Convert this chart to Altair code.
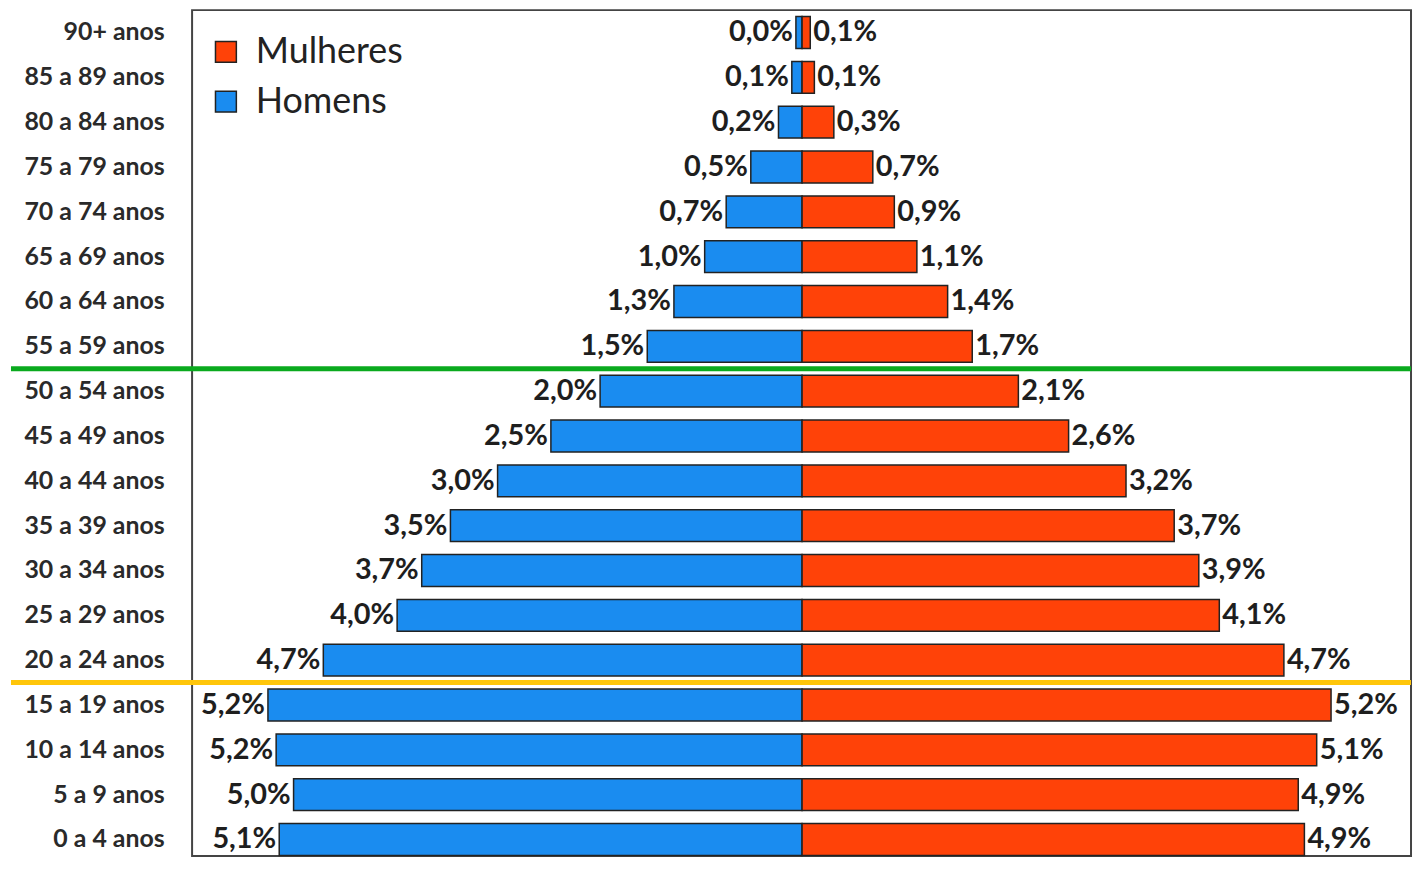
import altair as alt
import pandas as pd

ages = ["90+ anos", "85 a 89 anos", "80 a 84 anos", "75 a 79 anos", "70 a 74 anos",
        "65 a 69 anos", "60 a 64 anos", "55 a 59 anos", "50 a 54 anos", "45 a 49 anos",
        "40 a 44 anos", "35 a 39 anos", "30 a 34 anos", "25 a 29 anos", "20 a 24 anos",
        "15 a 19 anos", "10 a 14 anos", "5 a 9 anos", "0 a 4 anos"]

homens = [0.06, 0.10, 0.23, 0.50, 0.74, 0.95, 1.25, 1.51, 1.97, 2.45, 2.97, 3.43,
          3.71, 3.95, 4.67, 5.21, 5.13, 4.96, 5.10]
mulheres = [0.08, 0.12, 0.31, 0.69, 0.90, 1.12, 1.42, 1.66, 2.11, 2.60, 3.16, 3.63,
            3.87, 4.07, 4.70, 5.16, 5.02, 4.84, 4.90]

homens_lbl = ["0,0%", "0,1%", "0,2%", "0,5%", "0,7%", "1,0%", "1,3%", "1,5%", "2,0%",
              "2,5%", "3,0%", "3,5%", "3,7%", "4,0%", "4,7%", "5,2%", "5,2%", "5,0%", "5,1%"]
mulheres_lbl = ["0,1%", "0,1%", "0,3%", "0,7%", "0,9%", "1,1%", "1,4%", "1,7%", "2,1%",
                "2,6%", "3,2%", "3,7%", "3,9%", "4,1%", "4,7%", "5,2%", "5,1%", "4,9%", "4,9%"]

series = ["Mulheres", "Homens"]
series_colors = ["#FF4208", "#1A8CF0"]

rule_ages = ["50 a 54 anos", "15 a 19 anos"]
rule_colors = ["#0AAA1E", "#FFC60A"]

rows = []
for a, h, m, hl, ml in zip(ages, homens, mulheres, homens_lbl, mulheres_lbl):
    rows.append({"age": a, "sexo": "Homens", "v": -h, "lbl": hl})
    rows.append({"age": a, "sexo": "Mulheres", "v": m, "lbl": ml})
df = pd.DataFrame(rows)
rules = pd.DataFrame({"age": rule_ages, "c": rule_colors})

W, H = 1225, 850
FONT = "Lato"

y_enc = alt.Y("age:N", sort=ages, title=None,
              scale=alt.Scale(paddingInner=0, paddingOuter=0, range=[0, 856]),
              axis=alt.Axis(ticks=False, domain=False, labelPadding=28,
                            labelFontSize=25, labelFont=FONT, labelFontWeight="bold",
                            labelColor="#2a2a2a", minExtent=182, maxExtent=182))
x_scale = alt.Scale(domain=[-5.95, 5.94], nice=False, zero=False)

bars = alt.Chart(df).mark_bar(
    height=alt.RelativeBandSize(0.71), stroke="#222222", strokeWidth=1.5
).encode(
    y=y_enc,
    x=alt.X("v:Q", scale=x_scale, axis=None, stack=None),
    color=alt.Color("sexo:N", scale=alt.Scale(domain=series, range=series_colors),
                    legend=alt.Legend(title=None, orient="none", legendX=16, legendY=24,
                                      symbolType="square", symbolSize=440,
                                      symbolStrokeColor="#222222", symbolStrokeWidth=1.5,
                                      symbolOpacity=1,
                                      labelFont=FONT, labelFontSize=36, labelColor="#222222",
                                      labelOffset=12, rowPadding=14)),
)

txt_h = alt.Chart(df).transform_filter(alt.datum.sexo == "Homens").mark_text(
    align="right", baseline="middle", dx=-3, fontSize=29, font=FONT,
    fontWeight="bold", color="#1e1e1e"
).encode(y=alt.Y("age:N", sort=ages), x=alt.X("v:Q", scale=x_scale), text="lbl:N")

txt_m = alt.Chart(df).transform_filter(alt.datum.sexo == "Mulheres").mark_text(
    align="left", baseline="middle", dx=3, fontSize=29, font=FONT,
    fontWeight="bold", color="#1e1e1e"
).encode(y=alt.Y("age:N", sort=ages), x=alt.X("v:Q", scale=x_scale), text="lbl:N")

rule = alt.Chart(rules).mark_rule(strokeWidth=5).encode(
    y=alt.Y("age:N", sort=ages, bandPosition=0),
    x=alt.value(-182), x2=alt.value(W),
    color=alt.Color("c:N", scale=None),
)

chart = alt.layer(bars, txt_h, txt_m, rule).properties(
    width=W, height=H, padding=0
).configure(
    background="white"
).configure_view(
    stroke="#444444", strokeWidth=2
)

chart.save("out.html", embed_options={"renderer": "svg", "actions": False})
